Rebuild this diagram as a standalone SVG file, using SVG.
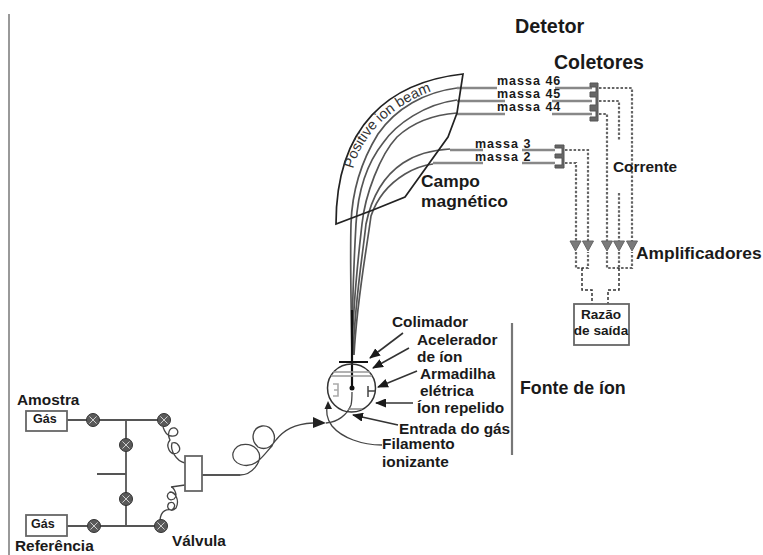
<svg xmlns="http://www.w3.org/2000/svg" width="763" height="555" viewBox="0 0 763 555">
<style>
text{font-family:"Liberation Sans",Arial,sans-serif;font-weight:bold;fill:#1a1a1a}
.l{font-size:15.4px}.m{font-size:12.5px;letter-spacing:1px}.r{font-size:13.6px}.g1{font-size:12.5px}
.w{fill:none;stroke:#222;stroke-width:1.6}
.g{fill:none;stroke:#555;stroke-width:1.7}
.gh{fill:none;stroke:#888;stroke-width:2.6}
.t{fill:none;stroke:#555;stroke-width:1.8}
.f{fill:none;stroke:#444;stroke-width:1.3}
.d{fill:none;stroke:#666;stroke-width:2.2;stroke-dasharray:2.5 1.8}
.dk{fill:none;stroke:#333;stroke-width:1.5;stroke-dasharray:3 2}
.box{fill:#fff;stroke:#666;stroke-width:1.8}
.v{fill:#5a5a5a;stroke:#333;stroke-width:1}
.x{stroke:#ddd;stroke-width:.9}
.col{fill:#666;stroke:#555}
.amp{fill:#7a7a7a;stroke:#666}
.ar{fill:none;stroke:#333;stroke-width:1.6;marker-end:url(#ah)}
</style>
<defs>
<g id="valve"><circle class="v" r="6.5"/><path class="x" d="M-3.6-3.6 3.6 3.6M-3.6 3.6 3.6-3.6"/></g>
<marker id="ah" markerWidth="12" markerHeight="9" refX="10" refY="4.5" orient="auto" markerUnits="userSpaceOnUse"><path d="M0 0L11 4.5 0 9z" fill="#1a1a1a"/></marker>
</defs>
<g id="frame"><path d="M9 14V555" stroke="#777" stroke-width="1.5"/></g>
<g id="connectors">
<path class="t" d="M67 420H164M67 526H161M126 420V526M97 474H126M202 475H240"/>
<path class="f" d="M163 427C165 433 167 436 171 436C178 437 180 431 175 428C169 427 167 434 170 440C165 446 170 456 177 453C183 450 178 441 172 443C170 450 176 461 185 463"/>
<path class="f" d="M160 520C161 510 167 509 172 510C177 506 174 501 169 503C165 508 171 513 176 508C180 500 175 492 170 492C165 495 168 502 174 499C179 495 173 487 171 487L185 485"/>
<path class="f" d="M240 475C252 475 262 462 259 453C254 442 237 441 233 453C231 464 247 470 258 461C264 456 268 450 272 446C278 436 272 425 262 426C252 428 250 440 258 447C266 451 272 446 276 440C284 430 294 424 313 423"/>
<path d="M313 417L326 423 313 428z" fill="#222"/>
<path class="f" d="M326 423C338 422 347 415 351 405C352 401 352 396 352 392" stroke="#888"/>
<path class="f" d="M382 445C362 445 342 438 332 426C326 418 326 410 328 404"/>
<path d="M324.500 409L328 401 332 409z" fill="#222"/>
<g id="beam-lines">
<path class="g" d="M352 355C351 300 350 260 351 224C352 190 362 160 378 134C396 108 425 92 457 88"/>
<path class="g" d="M352 355C352 300 354 260 356 224C358 190 368 162 383 143C396 124 425 104 457 100"/>
<path class="g" d="M352 355C353 300 358 260 362 224C365 195 380 155 397 137C410 125 430 115 457 113"/>
<path class="g" d="M353 355C355 300 362 260 366 224C372 195 385 175 403 163C415 155 430 150 450 149"/>
<path class="g" d="M354 355C357 300 365 260 371 216C378 195 392 182 405 174C415 168 425 165 433 164"/>
</g>
<path class="gh" d="M457 88H497M555 88H592M457 101H505M552 101H592M457 114H505M552 114H592M450 150H483M522 150H555M433 163H483M522 163H555"/>
<path d="M352 310V388" stroke="#111" stroke-width="2.2" fill="none"/>
<path class="d" d="M599 88H632V241M599 101H619V140M619 193V241M599 114H607V241M565 150H588V241M565 163H576V241"/>
<path class="d" d="M576 252V268H588V252M607 252V268H632V252M619 252V268"/>
<path class="dk" d="M582 268V290H592V304M619 268V290H608V304"/>
<path class="ar" d="M403 333L370 358"/>
<path class="ar" d="M409 348L373 368"/>
<path class="ar" d="M417 371L378 387"/>
<path d="M413 403H376" fill="none" stroke="#666" stroke-width="2" marker-end="url(#ah)"/>
<path class="ar" d="M398 425L353 415"/>
</g>
<g id="gas-sample"><rect class="box" x="26" y="411" width="41" height="20"/><text class="g1" x="33" y="423">Gás</text></g>
<g id="gas-reference"><rect class="box" x="26" y="515" width="41" height="21"/><text class="g1" x="31" y="528">Gás</text></g>
<g id="valves">
<use href="#valve" x="93" y="420"/><use href="#valve" x="164" y="420"/>
<use href="#valve" x="126" y="445"/><use href="#valve" x="126" y="499"/>
<use href="#valve" x="94" y="526"/><use href="#valve" x="161" y="526"/>
</g>
<g id="switch"><rect class="box" x="185" y="456" width="17" height="35"/></g>
<g id="magnet"><path d="M336 224C336 125 390 82 463 74L457 113 448 137 405 197 373 210z" fill="none" stroke="#222" stroke-width="1.7"/>
<path id="tp" d="M353 169C362 135 390 108 427 93" fill="none"/>
<text font-size="14.5" style="font-weight:normal;fill:#333"><textPath href="#tp">Positive ion beam</textPath></text>
<text x="421" y="187" style="font-size:17.400px">Campo</text><text style="font-size:17.400px" x="421" y="207">magnético</text></g>
<g id="ion-source">
<circle cx="351.500" cy="388" r="24" fill="none" stroke="#333" stroke-width="1.5"/>
<path d="M339 362H368" stroke="#111" stroke-width="2"/>
<path d="M333 372H370M331 376H372" stroke="#999" stroke-width="1.5"/>
<circle cx="352" cy="388" r="2.500" fill="#111"/>
<path d="M333 384H338V396H333M338 390H334" fill="none" stroke="#aaa" stroke-width="1.600"/>
<path d="M368 386V397M368 391H375" fill="none" stroke="#444" stroke-width="1.500"/>
<path d="M348 409H362" stroke="#888" stroke-width="1.500"/>
<path d="M512 323V455" stroke="#777" stroke-width="2.200"/>
<text x="520" y="394" style="font-size:17.800px">Fonte de íon</text>
</g>
<g id="collectors">
<path class="col" d="M590 83H598V121H590V117H596V111H590V105H596V97H590V92H596V87H590z"/>
<path class="col" d="M555 145H564V168H555V165H562V158H555V154H562V148H555z"/>
</g>
<g id="amplifiers">
<path class="amp" d="M570 241H581L575.500 251zM582.500 241H593.500L588 251zM601.500 241H612.500L607 251zM613.500 241H624.500L619 251zM626.500 241H637.500L632 251z"/>
</g>
<g id="ratio"><rect class="box" x="574" y="304" width="55" height="41"/><text class="r" x="601" y="319" text-anchor="middle">Razão</text><text class="r" x="601" y="335" text-anchor="middle">de saída</text></g>
<g id="labels">
<text x="515" y="33" style="font-size:19.800px">Detetor</text>
<text x="554" y="69" style="font-size:19.500px">Coletores</text>
<text class="m" x="497" y="85">massa 46</text><text class="m" x="497" y="98">massa 45</text><text class="m" x="497" y="111">massa 44</text>
<text class="m" x="475" y="148">massa 3</text><text class="m" x="475" y="161">massa 2</text>
<text class="l" x="613" y="172">Corrente</text>
<text x="636" y="259" style="font-size:17.400px">Amplificadores</text>
<text class="l" x="392" y="327">Colimador</text>
<text class="l" x="417" y="345">Acelerador</text><text class="l" x="417" y="362">de íon</text>
<text class="l" x="420" y="379">Armadilha</text><text class="l" x="420" y="396">elétrica</text>
<text class="l" x="417" y="413">Íon repelido</text>
<text class="l" x="399" y="434">Entrada do gás</text>
<text class="l" x="382" y="449">Filamento</text><text class="l" x="382" y="467">ionizante</text>
<text class="l" x="17" y="405">Amostra</text>
<text class="l" x="15" y="551">Referência</text>
<text class="l" x="172" y="546">Válvula</text>
</g>
</svg>
